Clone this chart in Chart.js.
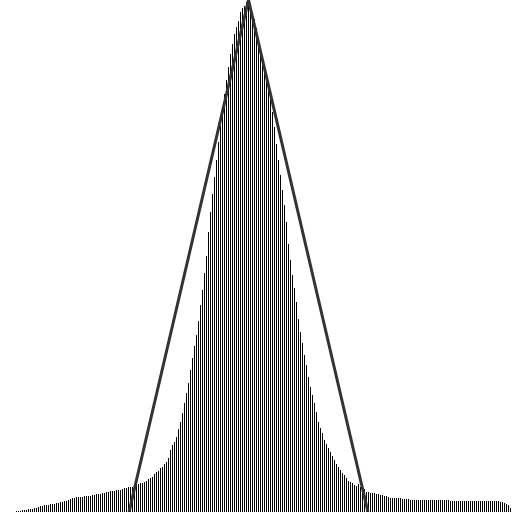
<!DOCTYPE html>
<html>
<head>
<meta charset="utf-8">
<script src="https://cdn.jsdelivr.net/npm/chart.js@4/dist/chart.umd.min.js"></script>
<style>
html,body{margin:0;padding:0;background:#fff;}
#wrap{width:512px;height:512px;}
</style>
</head>
<body>
<div id="wrap"><canvas id="c" width="512" height="512"></canvas></div>
<script>
// histogram bin heights (256 bins)
const binHeights = [
0,0,0,0,0,0,0,0,
1,1,1,2,2,2,3,3,3,4,4,5,
6,6,7,7,7,8,8,8,9,9,
10,10,11,11,12,13,14,14,15,15,
15,15,16,16,16,16,17,17,18,18,
18,19,19,20,20,21,21,21,22,22,
22,23,24,24,25,25,25,26,27,28,
29,29,30,31,33,34,35,38,40,41,
44,45,48,50,54,62,67,70,75,83,
90,99,109,119,129,142,154,166,177,191,
207,222,239,256,280,300,318,335,352,370,
386,402,418,432,445,458,468,478,485,491,
500,504,506,510,512,506,500,493,484,474,
463,451,440,430,422,414,400,385,368,352,
337,322,307,290,268,252,237,224,210,193,
180,169,157,147,135,125,117,109,100,90,
84,79,72,68,64,60,56,52,48,45,
42,39,37,34,31,30,29,27,26,28,
25,24,23,20,20,19,19,19,18,18,
17,17,16,16,15,14,14,14,14,14,
14,13,13,13,13,12,12,12,12,12,
12,12,12,12,12,12,12,12,12,12,
12,12,12,12,12,11,11,11,11,11,
11,11,11,11,11,11,11,11,11,11,
11,11,11,11,11,11,11,11,11,11,
10,10,9,8,7,4
];
// triangle overlay vertices (bin-position, height)
const triangleX = [64.5, 124.25, 184];
const triangleY = [0, 512, 0];
const binCount = 256;
const yMax = 512;

const barData = binHeights.map((v, i) => ({x: i + 0.25, y: v}));
const lineData = triangleX.map((x, i) => ({x: x, y: triangleY[i]}));

new Chart(document.getElementById('c'), {
  data: {
    datasets: [
      {
        type: 'line',
        data: lineData,
        borderColor: '#333333',
        borderWidth: 3,
        pointRadius: 0,
        fill: false,
        tension: 0,
        order: 0,
        clip: false
      },
      {
        type: 'bar',
        data: barData,
        backgroundColor: '#000000',
        borderWidth: 0,
        barThickness: 1,
        inflateAmount: 0,
        grouped: false,
        order: 1
      }
    ]
  },
  options: {
    responsive: false,
    animation: false,
    devicePixelRatio: 1,
    layout: {padding: 0},
    plugins: {legend: {display: false}, tooltip: {enabled: false}, title: {display: false}},
    scales: {
      x: {type: 'linear', min: 0, max: binCount, display: false, offset: false},
      y: {type: 'linear', min: 0, max: yMax, display: false}
    }
  }
});
</script>
</body>
</html>
